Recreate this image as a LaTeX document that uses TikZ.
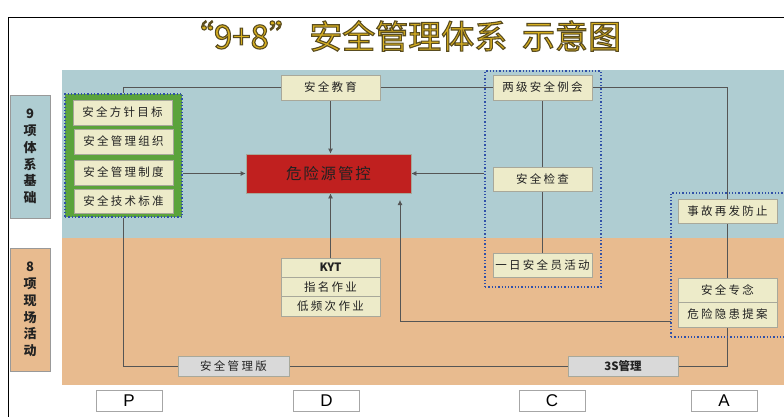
\documentclass[tikz,border=0pt]{standalone}
\usepackage{fontspec}
\newfontfamily\cjk{Noto Sans CJK SC}
\newfontfamily\cjksp[LetterSpace=20]{Noto Sans CJK SC}
\newfontfamily\latin{Liberation Sans}
\usetikzlibrary{arrows.meta}
\definecolor{panelblue}{HTML}{AFCDD2}
\definecolor{panelorange}{HTML}{E8BB8F}
\definecolor{cream}{HTML}{EDEBC9}
\definecolor{boxedge}{HTML}{A8A89A}
\definecolor{greenc}{HTML}{5BA33B}
\definecolor{redc}{HTML}{C0201F}
\definecolor{grayc}{HTML}{D9D9D9}
\definecolor{dotblue}{HTML}{3050A8}
\definecolor{linec}{HTML}{555555}
\definecolor{textc}{HTML}{222222}
\definecolor{titlec}{HTML}{D8B020}
\pgfdeclarelayer{bg}
\pgfdeclarelayer{wires}
\pgfsetlayers{bg,wires,main}
\begin{document}
\begin{tikzpicture}[x=1pt,y=-1pt,
  cream/.style={draw=boxedge, fill=cream, line width=0.8pt, minimum width=99pt,
    minimum height=25pt, inner sep=0pt, text=textc,
    font=\cjksp\fontsize{11.5}{12}\selectfont},
  graybox/.style={cream, fill=grayc, draw=boxedge},
  pdca/.style={draw=gray!70, fill=white, line width=0.8pt, minimum width=66pt,
    minimum height=21pt, inner sep=0pt, font=\latin\fontsize{17}{17}\selectfont},
  labbox/.style={draw=gray!80, line width=0.8pt, minimum width=40pt, minimum height=123pt,
    inner sep=0pt, align=center, text=textc,
    font=\cjk\bfseries\fontsize{13}{16.7}\selectfont},
  dotbox/.style={draw=dotblue, dotted, line width=1.3pt, inner sep=0pt},
  conn/.style={draw=linec, line width=0.8pt},
  arr/.style={conn, -{Latex[length=5pt,width=5pt]}}]
\useasboundingbox (0,0) rectangle (784,417);
\begin{pgfonlayer}{bg}
  \fill[panelblue] (62,70) rectangle (784,238);
  \fill[panelorange] (62,238) rectangle (784,385);
  \draw[black, line width=1pt] (8,417) -- (8,18) -- (784,18);
\end{pgfonlayer}

% left labels
\node[labbox, fill=panelblue] (lab9) at (30,156.5) {9\\项\\体\\系\\基\\础};
\node[labbox, fill=panelorange] (lab8) at (30,309.5) {8\\项\\现\\场\\活\\动};

% green group
\node[dotbox, fill=greenc, minimum width=117pt, minimum height=123pt] (gbox) at (123.5,155.5) {};
\node[cream] (g1) at (122.5,112.5) {安全方针目标};
\node[cream] (g2) at (123.5,141.5) {安全管理组织};
\node[cream] (g3) at (123.5,172.5) {安全管理制度};
\node[cream, minimum height=24pt] (g4) at (123.5,201) {安全技术标准};

% dotted groups
\node[dotbox, minimum width=116pt, minimum height=216pt] (cbox) at (543,179) {};
\node[dotbox, minimum width=129pt, minimum height=144pt] (abox) at (735.5,265) {};

% main nodes
\node[cream] (edu) at (330.5,87.5) {安全教育};
\node[draw=boxedge, fill=redc, line width=0.8pt, minimum width=165pt, minimum height=39pt,
  inner sep=0pt, text=textc, font=\cjk\fontsize{15.5}{16}\selectfont] (red) at (328.5,173.5)
  {\addfontfeature{LetterSpace=12}危险源管控};
\node[cream] (lj) at (542.5,87.5) {两级安全例会};
\node[cream, minimum height=24pt] (jc) at (542.5,179) {安全检查};
\node[cream, minimum height=24pt] (yr) at (542.5,265) {一日安全员活动};
\node[cream, minimum height=24pt] (sg) at (727.5,211) {事故再发防止};
\node[cream, minimum height=24pt] (zn) at (727.5,290) {安全专念};
\node[cream, minimum height=25pt] (wx) at (727.5,314.5) {危险隐患提案};
\node[cream, minimum height=19.3pt, font=\cjk\bfseries\fontsize{11.5}{12}\selectfont] (kyt1) at (330.5,267.7) {KYT};
\node[cream, minimum height=19.3pt] (kyt2) at (330.5,287) {指名作业};
\node[cream, minimum height=19.3pt] (kyt3) at (330.5,306.3) {低频次作业};
\node[graybox, minimum width=111pt, minimum height=20pt] (gl) at (233.5,366) {安全管理版};
\node[graybox, minimum width=110pt, minimum height=20pt, font=\cjk\bfseries\fontsize{11.5}{12}\selectfont] (s3) at (623,366) {3S管理};

% PDCA
\node[pdca] (P) at (129,400.5) {P};
\node[pdca] (D) at (326.5,400.5) {D};
\node[pdca] (C) at (552,400.5) {C};
\node[pdca] (A) at (724,400.5) {A};

\coordinate (aL) at (671,321);
\coordinate (aT) at (400,200);

\begin{pgfonlayer}{wires}
  \draw[conn] (gbox.north) |- (edu.west);
  \draw[conn] (edu.east) -- (lj.west);
  \draw[conn] (lj.east) -| (zn.north);
  \draw[arr] (edu.south) -- (edu.south |- red.north);
  \draw[arr] (gbox.east |- red.west) -- (red.west);
  \draw[arr] (cbox.west |- red.east) -- (red.east);
  \draw[arr] (kyt1.north) -- (kyt1.north |- red.south);
  \draw[arr] (aL) -| (aT);
  \draw[conn] (lj.south) -- (jc.north);
  \draw[conn] (jc.south) -- (yr.north);
  \draw[conn] (gbox.south) |- (gl.west);
  \draw[conn] (gl.east) -- (s3.west);
  \draw[conn] (s3.east) -| (wx.south);
\end{pgfonlayer}

\node (title) at (401,36) {\cjk\fontsize{33}{33}\selectfont\color{titlec}\special{pdf:literal direct 2 Tr 1.1 w 0.35 0.3 0.12 RG}“9+8”\ 安全管理体系\ \ 示意图\special{pdf:literal direct 0 Tr}};
\end{tikzpicture}
\end{document}
